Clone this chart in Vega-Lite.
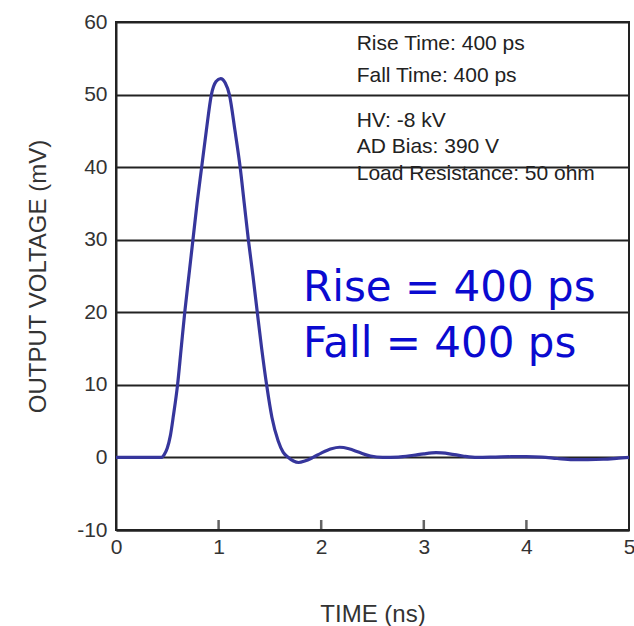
{
  "$schema": "https://vega.github.io/schema/vega-lite/v6.json",
  "width": 513,
  "height": 508,
  "autosize": {"type": "none"},
  "padding": {"left": 116, "top": 22, "right": 5, "bottom": 96},
  "background": "white",
  "config": {
    "view": {"stroke": "#222", "strokeWidth": 2},
    "font": "Liberation Sans"
  },
  "datasets": {
    "curve": [
      {"t": 0, "v": 0}, {"t": 0.3, "v": 0}, {"t": 0.44, "v": 0}, {"t": 0.47, "v": 0.4},
      {"t": 0.5, "v": 1.3}, {"t": 0.53, "v": 3}, {"t": 0.56, "v": 5.8}, {"t": 0.6, "v": 10},
      {"t": 0.635, "v": 15}, {"t": 0.67, "v": 20}, {"t": 0.71, "v": 25}, {"t": 0.75, "v": 30},
      {"t": 0.79, "v": 35}, {"t": 0.835, "v": 40}, {"t": 0.88, "v": 45}, {"t": 0.93, "v": 50},
      {"t": 0.975, "v": 51.8}, {"t": 1.02, "v": 52.2}, {"t": 1.065, "v": 51.6}, {"t": 1.105, "v": 50},
      {"t": 1.16, "v": 45}, {"t": 1.21, "v": 40}, {"t": 1.25, "v": 35}, {"t": 1.29, "v": 30},
      {"t": 1.335, "v": 25}, {"t": 1.377, "v": 20}, {"t": 1.42, "v": 15}, {"t": 1.468, "v": 10},
      {"t": 1.52, "v": 5.5}, {"t": 1.58, "v": 2.3}, {"t": 1.63, "v": 0.7}, {"t": 1.68, "v": 0},
      {"t": 1.73, "v": -0.5}, {"t": 1.78, "v": -0.7}, {"t": 1.84, "v": -0.5}, {"t": 1.92, "v": 0},
      {"t": 2.0, "v": 0.6}, {"t": 2.1, "v": 1.2}, {"t": 2.18, "v": 1.4}, {"t": 2.27, "v": 1.2},
      {"t": 2.37, "v": 0.7}, {"t": 2.48, "v": 0.2}, {"t": 2.6, "v": 0}, {"t": 2.75, "v": 0.05},
      {"t": 2.9, "v": 0.3}, {"t": 3.0, "v": 0.5}, {"t": 3.12, "v": 0.65}, {"t": 3.25, "v": 0.5},
      {"t": 3.38, "v": 0.2}, {"t": 3.52, "v": 0}, {"t": 3.7, "v": 0.05}, {"t": 3.85, "v": 0.1},
      {"t": 4.0, "v": 0.1}, {"t": 4.15, "v": 0.05}, {"t": 4.3, "v": -0.15}, {"t": 4.45, "v": -0.3},
      {"t": 4.6, "v": -0.3}, {"t": 4.75, "v": -0.25}, {"t": 4.9, "v": -0.1}, {"t": 5.0, "v": 0}
    ],
    "xticks": [{"t": 1}, {"t": 2}, {"t": 3}, {"t": 4}],
    "notes": [
      {"t": 2.346, "v": 57.0, "label": "Rise Time: 400 ps"},
      {"t": 2.346, "v": 52.6, "label": "Fall Time: 400 ps"},
      {"t": 2.346, "v": 46.4, "label": "HV: -8 kV"},
      {"t": 2.346, "v": 42.8, "label": "AD Bias: 390 V"},
      {"t": 2.346, "v": 39.0, "label": "Load Resistance: 50 ohm"}
    ],
    "big": [
      {"t": 1.823, "v": 21.6, "label": "Rise = 400 ps"},
      {"t": 1.823, "v": 13.8, "label": "Fall = 400 ps"}
    ]
  },
  "layer": [
    {
      "data": {"name": "notes"},
      "mark": {"type": "text", "align": "left", "baseline": "middle", "fontSize": 21, "color": "#222"},
      "encoding": {
        "x": {"field": "t", "type": "quantitative", "scale": {"domain": [0, 5], "nice": false},
          "axis": {"values": [0, 1, 2, 3, 4, 5], "labelExpr": "'' + datum.value", "labelFlush": false, "grid": false, "ticks": false,
            "domainColor": "#222", "domainWidth": 2, "labelFontSize": 21, "labelColor": "#333", "labelPadding": 6,
            "title": "TIME (ns)", "titleFontSize": 24, "titleFontWeight": "normal", "titleColor": "#333", "titlePadding": 45}},
        "y": {"field": "v", "type": "quantitative", "scale": {"domain": [-10, 60], "nice": false},
          "axis": {"values": [-10, 0, 10, 20, 30, 40, 50, 60], "labelExpr": "'' + datum.value", "labelFlush": false, "grid": true, "gridColor": "#222", "gridWidth": 2, "gridOpacity": 1,
            "ticks": false, "domainColor": "#222", "domainWidth": 2, "labelFontSize": 21, "labelColor": "#333", "labelPadding": 9,
            "title": "OUTPUT VOLTAGE (mV)", "titleFontSize": 24, "titleFontWeight": "normal", "titleColor": "#333", "titlePadding": 26}},
        "text": {"field": "label"}
      }
    },
    {
      "data": {"name": "xticks"},
      "mark": {"type": "tick", "color": "#222", "orient": "vertical", "size": 20, "thickness": 2.5, "clip": true},
      "encoding": {
        "x": {"field": "t", "type": "quantitative"},
        "y": {"datum": -10}
      }
    },
    {
      "data": {"name": "curve"},
      "mark": {"type": "line", "interpolate": "monotone", "color": "#36369c", "strokeWidth": 3.2},
      "encoding": {
        "x": {"field": "t", "type": "quantitative"},
        "y": {"field": "v", "type": "quantitative"}
      }
    },
    {
      "data": {"name": "big"},
      "mark": {"type": "text", "align": "left", "baseline": "alphabetic", "fontSize": 42, "font": "DejaVu Sans", "color": "#0a0ad0"},
      "encoding": {
        "x": {"field": "t", "type": "quantitative"},
        "y": {"field": "v", "type": "quantitative"},
        "text": {"field": "label"}
      }
    }
  ]
}
